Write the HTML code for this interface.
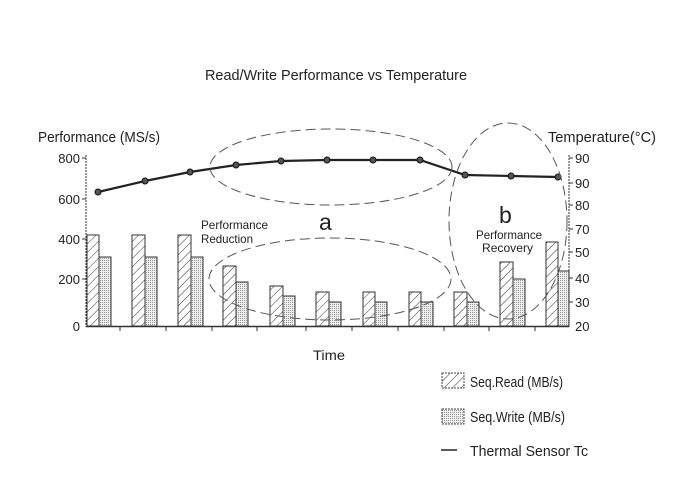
<!DOCTYPE html>
<html><head><meta charset="utf-8"><style>
html,body{margin:0;padding:0;background:#fff;}
svg{display:block;font-family:"Liberation Sans",sans-serif;}
</style></head><body>
<svg width="682" height="492" viewBox="0 0 682 492" xmlns="http://www.w3.org/2000/svg">
<defs>
<pattern id="hatch" width="6" height="6" patternUnits="userSpaceOnUse" patternTransform="rotate(45)">
<rect width="6" height="6" fill="#fff"/><line x1="0" y1="0" x2="0" y2="6" stroke="#333" stroke-width="1"/>
</pattern>
<pattern id="dots" width="2" height="2" patternUnits="userSpaceOnUse">
<rect width="2" height="2" fill="#eee"/><rect width="1" height="1" fill="#999"/>
</pattern>
</defs>
<text x="205" y="80" font-size="15" textLength="262" lengthAdjust="spacingAndGlyphs" fill="#222">Read/Write Performance vs Temperature</text>
<text x="38" y="142" font-size="15" textLength="122" lengthAdjust="spacingAndGlyphs" fill="#222">Performance (MS/s)</text>
<text x="548" y="142" font-size="15" textLength="108" lengthAdjust="spacingAndGlyphs" fill="#222">Temperature(°C)</text>
<g font-size="13" fill="#222" text-anchor="end">
<text x="80" y="163">800</text><text x="80" y="204">600</text><text x="80" y="244">400</text><text x="80" y="284">200</text><text x="80" y="331">0</text>
</g>
<g font-size="13" fill="#222">
<text x="575" y="163">90</text><text x="575" y="188">90</text><text x="575" y="210">80</text><text x="575" y="234">70</text><text x="575" y="257">50</text><text x="575" y="283">40</text><text x="575" y="307">30</text><text x="575" y="331">20</text>
</g>
<g stroke="#333" stroke-width="1">
<line x1="86" y1="155" x2="86" y2="327" stroke-dasharray="2,1"/>
<line x1="569" y1="155" x2="569" y2="327" stroke-dasharray="2,1"/>
<line x1="86" y1="326.5" x2="569" y2="326.5" stroke-width="1.5"/>
<g stroke-width="1">
<line x1="82" y1="158" x2="86" y2="158"/><line x1="82" y1="199" x2="86" y2="199"/><line x1="82" y1="239" x2="86" y2="239"/><line x1="82" y1="279" x2="86" y2="279"/>
<line x1="569" y1="158" x2="573" y2="158"/><line x1="569" y1="183" x2="573" y2="183"/><line x1="569" y1="205" x2="573" y2="205"/><line x1="569" y1="229" x2="573" y2="229"/><line x1="569" y1="252" x2="573" y2="252"/><line x1="569" y1="278" x2="573" y2="278"/><line x1="569" y1="302" x2="573" y2="302"/>
<line x1="120" y1="327" x2="120" y2="331"/><line x1="166" y1="327" x2="166" y2="331"/><line x1="212" y1="327" x2="212" y2="331"/><line x1="257" y1="327" x2="257" y2="331"/><line x1="306" y1="327" x2="306" y2="331"/><line x1="352" y1="327" x2="352" y2="331"/><line x1="398" y1="327" x2="398" y2="331"/><line x1="444" y1="327" x2="444" y2="331"/><line x1="489" y1="327" x2="489" y2="331"/><line x1="535" y1="327" x2="535" y2="331"/>
</g>
</g>
<g stroke="#333" stroke-width="1">
<rect x="87" y="235" width="12" height="91" fill="url(#hatch)"/><rect x="99" y="257" width="12" height="69" fill="url(#dots)"/>
<rect x="132" y="235" width="13" height="91" fill="url(#hatch)"/><rect x="145" y="257" width="12" height="69" fill="url(#dots)"/>
<rect x="178" y="235" width="13" height="91" fill="url(#hatch)"/><rect x="191" y="257" width="12" height="69" fill="url(#dots)"/>
<rect x="223" y="266" width="13" height="60" fill="url(#hatch)"/><rect x="236" y="282" width="12" height="44" fill="url(#dots)"/>
<rect x="270" y="286" width="13" height="40" fill="url(#hatch)"/><rect x="283" y="296" width="12" height="30" fill="url(#dots)"/>
<rect x="316" y="292" width="13" height="34" fill="url(#hatch)"/><rect x="329" y="302" width="12" height="24" fill="url(#dots)"/>
<rect x="363" y="292" width="12" height="34" fill="url(#hatch)"/><rect x="375" y="302" width="12" height="24" fill="url(#dots)"/>
<rect x="409" y="292" width="12" height="34" fill="url(#hatch)"/><rect x="421" y="302" width="12" height="24" fill="url(#dots)"/>
<rect x="454" y="292" width="13" height="34" fill="url(#hatch)"/><rect x="467" y="302" width="12" height="24" fill="url(#dots)"/>
<rect x="500" y="262" width="13" height="64" fill="url(#hatch)"/><rect x="513" y="279" width="12" height="47" fill="url(#dots)"/>
<rect x="546" y="242" width="12" height="84" fill="url(#hatch)"/><rect x="558" y="271" width="11" height="55" fill="url(#dots)"/>
</g>
<polyline points="98,192 145,181 190,172 236,165 281,161 327,160 373,160 420,160 465,175 511,176 558,177" fill="none" stroke="#222" stroke-width="2.2"/>
<g fill="#555" stroke="#111" stroke-width="1">
<circle cx="98" cy="192" r="3"/><circle cx="145" cy="181" r="3"/><circle cx="190" cy="172" r="3"/><circle cx="236" cy="165" r="3"/><circle cx="281" cy="161" r="3"/><circle cx="327" cy="160" r="3"/><circle cx="373" cy="160" r="3"/><circle cx="420" cy="160" r="3"/><circle cx="465" cy="175" r="3"/><circle cx="511" cy="176" r="3"/><circle cx="558" cy="177" r="3"/>
</g>
<g fill="none" stroke="#555" stroke-width="1" stroke-dasharray="10,5">
<ellipse cx="331" cy="167" rx="121" ry="38"/>
<ellipse cx="330" cy="279" rx="121" ry="41"/>
<ellipse cx="508" cy="221" rx="59" ry="98"/>
</g>
<text x="201" y="229" font-size="12" textLength="67" lengthAdjust="spacingAndGlyphs" fill="#222">Performance</text>
<text x="201" y="243" font-size="12" textLength="52" lengthAdjust="spacingAndGlyphs" fill="#222">Reduction</text>
<text x="319" y="230" font-size="23" fill="#222">a</text>
<text x="499" y="223" font-size="23" fill="#222">b</text>
<text x="476" y="239" font-size="12" textLength="66" lengthAdjust="spacingAndGlyphs" fill="#222">Performance</text>
<text x="482" y="252" font-size="12" textLength="51" lengthAdjust="spacingAndGlyphs" fill="#222">Recovery</text>
<text x="313" y="360" font-size="14" textLength="32" lengthAdjust="spacingAndGlyphs" fill="#222">Time</text>
<rect x="442" y="373" width="22" height="15" fill="url(#hatch)" stroke="#444" stroke-dasharray="2,1"/>
<rect x="442" y="409" width="22" height="15" fill="url(#dots)" stroke="#444" stroke-dasharray="2,1"/>
<line x1="441" y1="450" x2="457" y2="450" stroke="#222" stroke-width="1.5"/>
<text x="470" y="387" font-size="15" textLength="93" lengthAdjust="spacingAndGlyphs" fill="#222">Seq.Read (MB/s)</text>
<text x="470" y="422" font-size="15" textLength="95" lengthAdjust="spacingAndGlyphs" fill="#222">Seq.Write (MB/s)</text>
<text x="470" y="456" font-size="15" textLength="118" lengthAdjust="spacingAndGlyphs" fill="#222">Thermal Sensor Tc</text>
</svg>
</body></html>
